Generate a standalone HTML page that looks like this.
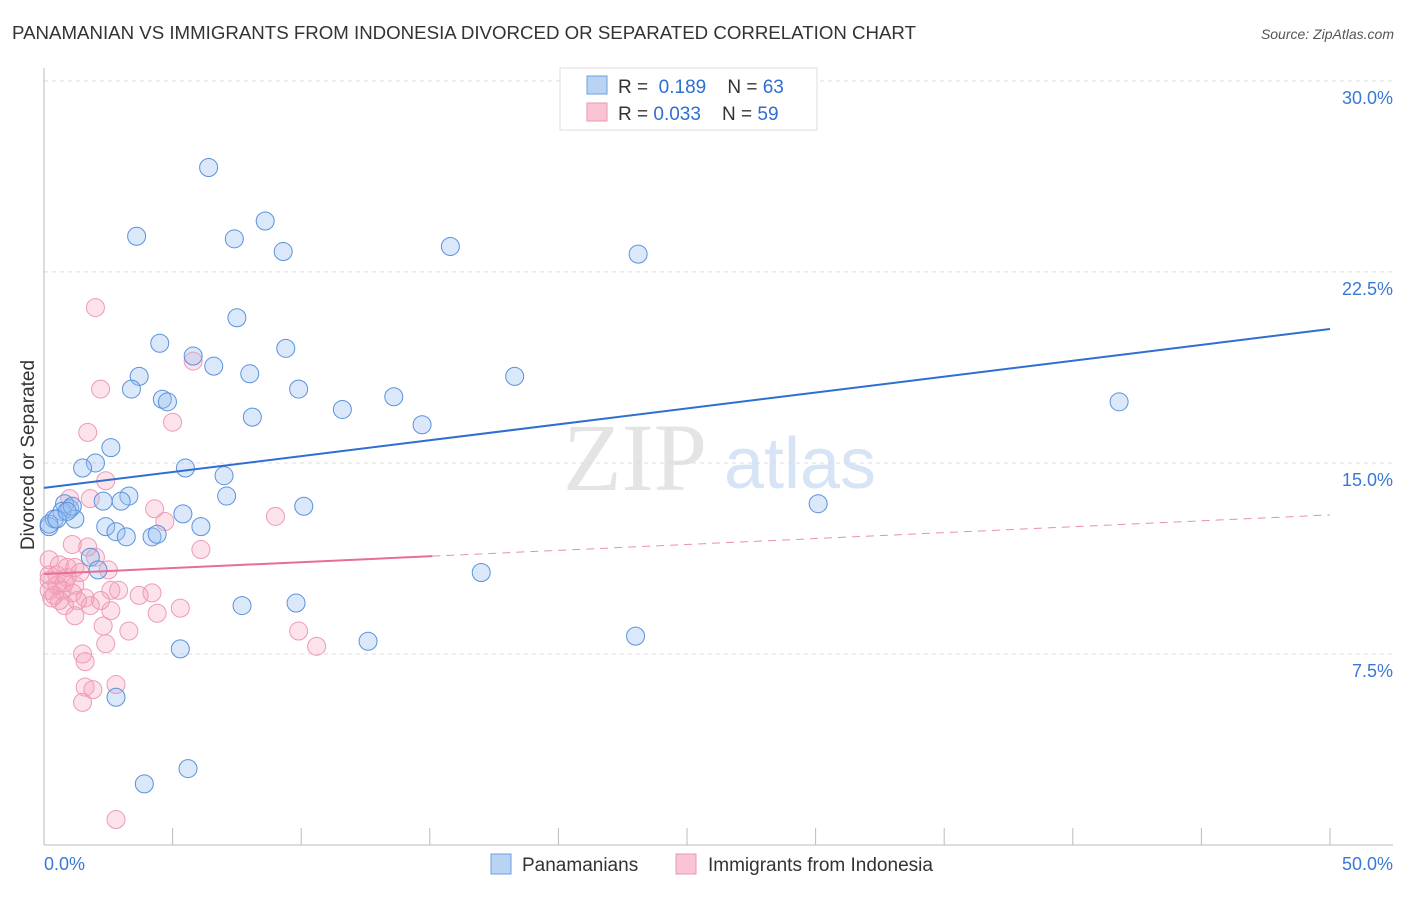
<!DOCTYPE html>
<html><head><meta charset="utf-8"><style>
body{margin:0;background:#fff;font-family:"Liberation Sans",sans-serif;}
</style></head><body>
<svg id="chart" width="1406" height="892" xmlns="http://www.w3.org/2000/svg" font-family="Liberation Sans, sans-serif">
<text x="12" y="39" font-size="18.5" fill="#333" textLength="904" lengthAdjust="spacingAndGlyphs">PANAMANIAN VS IMMIGRANTS FROM INDONESIA DIVORCED OR SEPARATED CORRELATION CHART</text>
<text x="1394" y="39" font-size="14" fill="#555" text-anchor="end" font-style="italic">Source: ZipAtlas.com</text>
<g><text x="635" y="490" font-size="96" fill="#e4e4e4" text-anchor="middle" font-family="Liberation Serif, serif">ZIP</text><text x="800" y="488" font-size="72" fill="#d6e4f5" text-anchor="middle">atlas</text></g>
<g id="grid"></g><g id="axes"></g><g id="marks"></g>
<text transform="translate(34,455) rotate(-90)" font-size="19" fill="#333" text-anchor="middle">Divorced or Separated</text>
<g>
<rect x="560" y="68" width="257" height="62" fill="#fff" stroke="#ddd"/>
<rect x="587" y="76" width="20" height="18" fill="#b9d3f3" stroke="#6d9fe0"/>
<rect x="587" y="103" width="20" height="18" fill="#f9c5d4" stroke="#ec97b0"/>
<text x="618" y="93" font-size="19" fill="#333">R = <tspan fill="#2f6fd0">&#160;0.189</tspan>&#160;&#160;&#160;&#160;N = <tspan fill="#2f6fd0">63</tspan></text>
<text x="618" y="120" font-size="19" fill="#333">R = <tspan fill="#2f6fd0">0.033</tspan>&#160;&#160;&#160;&#160;N = <tspan fill="#2f6fd0">59</tspan></text>
</g>
<g>
<rect x="491" y="854" width="20" height="20" fill="#b9d3f3" stroke="#6d9fe0"/>
<text x="522" y="871" font-size="19" fill="#333">Panamanians</text>
<rect x="676" y="854" width="20" height="20" fill="#f9c5d4" stroke="#ec97b0"/>
<text x="708" y="871" font-size="19" fill="#333">Immigrants from Indonesia</text>
</g>
</svg>
<script>
const xTicks=[0,5,10,15,20,25,30,35,40,45,50];
const yTicks=[7.5,15,22.5,30];
const yTickLabels=["7.5%","15.0%","22.5%","30.0%"];
const blueX=[6.4,8.6,3.6,7.4,9.3,15.8,23.1,7.5,4.5,5.8,9.4,6.6,3.7,8.0,18.3,3.4,9.9,4.6,4.8,13.6,11.6,41.8,8.1,14.7,2.6,2.0,1.5,5.5,7.0,3.3,7.1,2.3,3.0,0.8,1.0,0.7,1.2,0.4,0.2,5.4,10.1,30.1,6.1,2.4,2.8,3.2,4.2,4.4,1.8,2.1,17.0,7.7,9.8,23.0,12.6,5.3,2.8,3.9,5.6,0.2,0.5,1.1,0.9];
const blueY=[26.6,24.5,23.9,23.8,23.3,23.5,23.2,20.7,19.7,19.2,19.5,18.8,18.4,18.5,18.4,17.9,17.9,17.5,17.4,17.6,17.1,17.4,16.8,16.5,15.6,15.0,14.8,14.8,14.5,13.7,13.7,13.5,13.5,13.4,13.2,13.1,12.8,12.8,12.5,13.0,13.3,13.4,12.5,12.5,12.3,12.1,12.1,12.2,11.3,10.8,10.7,9.4,9.5,8.2,8.0,7.7,5.8,2.4,3.0,12.6,12.8,13.3,13.1];
const pinkX=[2.0,5.8,2.2,5.0,1.7,2.4,1.0,1.8,4.3,4.7,9.0,6.1,1.1,1.7,2.0,0.2,0.6,1.2,0.5,0.9,0.2,1.4,2.5,0.7,0.4,1.1,1.6,2.6,2.9,3.7,4.2,2.6,1.8,0.8,1.3,2.2,1.2,2.3,3.3,4.4,5.3,9.9,10.6,2.4,1.5,1.6,2.8,1.6,1.9,1.5,2.8,0.2,0.5,0.2,0.8,0.3,0.6,1.2,0.9];
const pinkY=[21.1,19.0,17.9,16.6,16.2,14.3,13.6,13.6,13.2,12.7,12.9,11.6,11.8,11.7,11.3,11.2,11.0,10.9,10.6,10.5,10.4,10.7,10.8,10.0,9.8,9.9,9.7,10.0,10.0,9.8,9.9,9.2,9.4,9.4,9.6,9.6,9.0,8.6,8.4,9.1,9.3,8.4,7.8,7.9,7.5,7.2,6.3,6.2,6.1,5.6,1.0,10.0,10.2,10.6,10.3,9.7,9.6,10.2,10.9];
const blueTrend=[14.02,20.26];
const pinkTrend=[10.64,12.96];
const X=v=>44+v*25.72, Y=v=>845-v*25.47;
const ns="http://www.w3.org/2000/svg";
function mk(tag,attrs,parent){const e=document.createElementNS(ns,tag);for(const k in attrs)e.setAttribute(k,attrs[k]);document.getElementById(parent).appendChild(e);return e;}
yTicks.forEach((t,i)=>{
 const g=mk('line',{x1:44,x2:1393,y1:Y(t),y2:Y(t),stroke:'#ddd','stroke-dasharray':'4,4'},'grid');
 
 
 const l=mk('text',{x:1393,y:Y(t)+23,'font-size':18,fill:'#3a78d6','text-anchor':'end'},'axes');
 l.textContent=yTickLabels[i];
 
 
});
const ax=mk('line',{x1:44,x2:1393,y1:845,y2:845,stroke:'#bbb'},'axes');


const ay=mk('line',{x1:44,x2:44,y1:68,y2:845,stroke:'#bbb'},'axes');


xTicks.forEach(t=>{
 const tk=mk('line',{x1:X(t),x2:X(t),y1:828,y2:845,stroke:'#bbb'},'axes');
 
 
});
[[0,'0.0%','start',44],[50,'50.0%','end',1393]].forEach(a=>{
 const l=mk('text',{x:a[3],y:870,'font-size':18,fill:'#3a78d6','text-anchor':a[2]},'axes');
 l.textContent=a[1];
 
 
});
pinkX.forEach((x,i)=>{
 const c=mk('circle',{cx:X(x),cy:Y(pinkY[i]),r:9,fill:'rgba(244,160,185,0.3)',stroke:'#ee9bb4','stroke-width':1},'marks');
 
 
});
blueX.forEach((x,i)=>{
 const c=mk('circle',{cx:X(x),cy:Y(blueY[i]),r:9,fill:'rgba(150,190,240,0.35)',stroke:'#5a92dc','stroke-width':1},'marks');
 
 
});
const pf=v=>pinkTrend[0]+(pinkTrend[1]-pinkTrend[0])*v/50;
const bt=mk('line',{x1:X(0),y1:Y(blueTrend[0]),x2:X(50),y2:Y(blueTrend[1]),stroke:'#2f6fd0','stroke-width':2},'marks');


const ps=mk('line',{x1:X(0),y1:Y(pf(0)),x2:X(15.1),y2:Y(pf(15.1)),stroke:'#e86d93','stroke-width':2},'marks');


const pd=mk('line',{x1:X(15.1),y1:Y(pf(15.1)),x2:X(50),y2:Y(pf(50)),stroke:'#e890aa','stroke-width':1,'stroke-dasharray':'8,6'},'marks');


</script>
</body></html>
